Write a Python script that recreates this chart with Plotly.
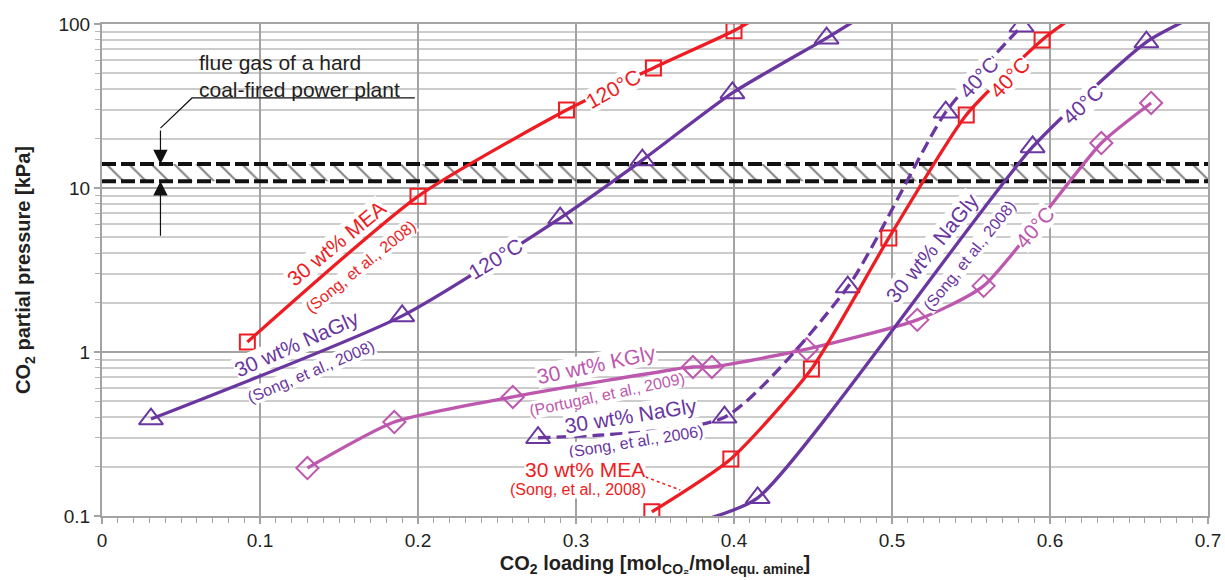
import math
import plotly.graph_objects as go

# ---------------- data ----------------
# 30 wt% MEA, 120 °C (Song et al., 2008)
mea120_x = [0.092, 0.200, 0.294, 0.349, 0.400]
mea120_y = [1.15, 8.9, 29.9, 54.0, 91.0]
mea120_edge_x = [0.412]
mea120_edge_y = [106.0]

# 30 wt% NaGly, 120 °C (Song et al., 2008)
nagly120_x = [0.031, 0.190, 0.290, 0.342, 0.399, 0.4586]
nagly120_y = [0.39, 1.66, 6.56, 14.8, 38.0, 82.0]
nagly120_edge_x = [0.476]
nagly120_edge_y = [104.0]

# 30 wt% MEA, 40 °C (Song et al., 2008)
mea40_x = [0.348, 0.398, 0.449, 0.498, 0.547, 0.595]
mea40_y = [0.106, 0.223, 0.787, 4.96, 27.9, 80.0]
mea40_edge_x = [0.612]
mea40_edge_y = [106.0]

# 30 wt% NaGly, 40 °C (Song et al., 2006) - dashed
nagly06_x = [0.276, 0.394, 0.472, 0.534, 0.582]
nagly06_y = [0.30, 0.40, 2.49, 29.0, 97.0]

# 30 wt% NaGly, 40 °C (Song et al., 2008)
nagly40_x = [0.415, 0.589, 0.661]
nagly40_y = [0.129, 17.8, 77.6]
nagly40_start_x = [0.375]
nagly40_start_y = [0.091]
nagly40_edge_x = [0.685]
nagly40_edge_y = [104.0]

# 30 wt% KGly, 40 °C (Portugal et al., 2009)
kgly_x = [0.130, 0.185, 0.260, 0.374, 0.386, 0.446, 0.516, 0.558, 0.6325, 0.664]
kgly_y = [0.196, 0.374, 0.532, 0.81, 0.81, 1.04, 1.57, 2.53, 18.8, 33.0]

# flue gas band of a hard coal-fired power plant (kPa)
flue_low = 11.0
flue_high = 14.0
x_range = [0.0, 0.7]
y_range = [0.1, 100]

RED = "#ee1d23"
PURPLE = "#6a36a0"
PINK = "#bd58ae"
TXT = "#231f20"
FONT = "Liberation Sans, Arial, sans-serif"

fig = go.Figure()

# ---------------- flue gas band ----------------
fig.add_trace(go.Scatter(
    x=x_range, y=[flue_low, flue_low], mode="lines",
    line=dict(color="#111111", width=4, dash="14px,5px"),
    hoverinfo="skip"))
fig.add_trace(go.Scatter(
    x=x_range, y=[flue_high, flue_high], mode="lines",
    line=dict(color="#111111", width=4, dash="14px,5px"),
    fill="tonexty", fillcolor="rgba(0,0,0,0)",
    fillpattern=dict(shape="\\", size=16, solidity=0.12,
                     fgcolor="#000000", bgcolor="rgba(0,0,0,0)"),
    hoverinfo="skip"))

# leader for the flue gas note
lead_x = 0.037
fig.add_trace(go.Scatter(
    x=[lead_x, 0.057, 0.198], y=[23.2, 35.4, 35.4], mode="lines",
    line=dict(color="#111111", width=1.2), hoverinfo="skip"))


def curve(xs, ys, color, symbol, size, dash="solid", line_x=None, line_y=None):
    lx = line_x if line_x is not None else xs
    ly = line_y if line_y is not None else ys
    fig.add_trace(go.Scatter(
        x=lx, y=ly, mode="lines",
        line=dict(color=color, width=3.3, dash=dash, shape="spline", smoothing=0.6),
        hoverinfo="skip"))
    fig.add_trace(go.Scatter(
        x=xs, y=ys, mode="markers",
        marker=dict(symbol=symbol, size=size, color=color,
                    line=dict(color=color, width=2)),
        hoverinfo="skip"))


curve(kgly_x, kgly_y, PINK, "diamond-open", 17)
curve(nagly120_x, nagly120_y, PURPLE, "triangle-up-open", 21,
      line_x=nagly120_x + nagly120_edge_x, line_y=nagly120_y + nagly120_edge_y)
curve(nagly40_x, nagly40_y, PURPLE, "triangle-up-open", 21,
      line_x=nagly40_start_x + nagly40_x + nagly40_edge_x,
      line_y=nagly40_start_y + nagly40_y + nagly40_edge_y)
curve(nagly06_x, nagly06_y, PURPLE, "triangle-up-open", 21, dash="12px,6px")
curve(mea120_x, mea120_y, RED, "square-open", 15,
      line_x=mea120_x + mea120_edge_x, line_y=mea120_y + mea120_edge_y)
curve(mea40_x, mea40_y, RED, "square-open", 15,
      line_x=mea40_x + mea40_edge_x, line_y=mea40_y + mea40_edge_y)

# dotted leader for the lower MEA label
fig.add_trace(go.Scatter(
    x=[0.344, 0.366], y=[0.173, 0.144], mode="lines",
    line=dict(color=RED, width=1.5, dash="dot"), hoverinfo="skip"))

# ---------------- labels ----------------
BIG = 21
SMALL = 16
labels = [
    ("30 wt% MEA", 0.1480, 4.62, -39.5, RED, BIG),
    ("(Song, et al., 2008)", 0.1640, 3.30, -39, RED, SMALL),
    ("30 wt% NaGly", 0.1235, 1.12, -24, PURPLE, BIG),
    ("(Song, et al., 2008)", 0.1325, 0.760, -23, PURPLE, SMALL),
    ("120°C", 0.3238, 40.2, -29, RED, BIG),
    ("120°C", 0.2492, 3.74, -31, PURPLE, BIG),
    ("30 wt% KGly", 0.3128, 0.838, -12, PINK, BIG),
    ("(Portugal, et al., 2009)", 0.3195, 0.548, -12, PINK, SMALL),
    ("30 wt% NaGly", 0.3350, 0.412, -9, PURPLE, BIG),
    ("(Song, et al., 2006)", 0.3380, 0.284, -9, PURPLE, SMALL),
    ("30 wt% MEA", 0.3055, 0.1908, 0, RED, BIG),
    ("(Song, et al., 2008)", 0.301, 0.146, 0, RED, SMALL),
    ("30 wt% NaGly", 0.5255, 4.35, -51, PURPLE, BIG),
    ("(Song, et al., 2008)", 0.5490, 3.90, -51, PURPLE, SMALL),
    ("40°C", 0.5547, 47.5, -48, PURPLE, BIG),
    ("40°C", 0.5743, 47.5, -46, RED, BIG),
    ("40°C", 0.6205, 32.5, -43, PURPLE, BIG),
    ("40°C", 0.5901, 5.78, -49, PINK, BIG),
]
for text, x, y, ang, col, fs in labels:
    fig.add_annotation(
        x=x, y=math.log10(y), text=text, showarrow=False, textangle=ang,
        xanchor="center", yanchor="middle", bgcolor="white", borderpad=0,
        font=dict(family=FONT, size=fs, color=col))

# flue gas note
fig.add_annotation(
    x=0.060, y=math.log10(48.5), text="flue gas of a hard<br>coal-fired power plant",
    showarrow=False, xanchor="left", yanchor="middle", align="left",
    font=dict(family=FONT, size=21, color=TXT))
# arrows pointing to the band
fig.add_annotation(x=lead_x, y=math.log10(flue_high), text="", showarrow=True,
                   ax=0, ay=-35, arrowhead=2, arrowsize=2.4, arrowwidth=1.2,
                   arrowcolor="#111111", standoff=0)
fig.add_annotation(x=lead_x, y=math.log10(flue_low), text="", showarrow=True,
                   ax=0, ay=56, arrowhead=2, arrowsize=2.4, arrowwidth=1.2,
                   arrowcolor="#111111", standoff=0)

# ---------------- layout ----------------
fig.update_layout(
    width=1225, height=580,
    margin=dict(l=102, r=17, t=24, b=64),
    paper_bgcolor="white", plot_bgcolor="white",
    showlegend=False,
    font=dict(family=FONT, size=19, color=TXT),
    xaxis=dict(
        range=x_range, dtick=0.1, tick0=0, automargin=False,
        showgrid=True, gridcolor="#a3a3a3", gridwidth=1.5,
        showline=True, linecolor="#a3a3a3", linewidth=2, mirror=True,
        ticks="outside", ticklen=6, tickcolor="#a3a3a3", tickwidth=1.5,
        minor=dict(dtick=0.01, ticks="outside", ticklen=5, tickcolor="#a3a3a3",
                   tickwidth=1.2, showgrid=False),
        zeroline=False,
        tickfont=dict(size=19, color=TXT),
        title=dict(text="<b>CO<sub>2</sub> loading [mol<sub>CO₂</sub>/mol<sub>equ. amine</sub>]</b>",
                   font=dict(size=20, color=TXT), standoff=6),
    ),
    yaxis=dict(
        type="log", range=[math.log10(y_range[0]), math.log10(y_range[1])], dtick=1,
        automargin=False,
        showgrid=True, gridcolor="#a3a3a3", gridwidth=2,
        showline=True, linecolor="#a3a3a3", linewidth=2, mirror=True,
        ticks="outside", ticklen=6, tickcolor="#a3a3a3", tickwidth=1.5,
        minor=dict(dtick="D1", ticks="outside", ticklen=5, tickcolor="#b5b5b5",
                   tickwidth=1.2, showgrid=True, gridcolor="#cccccc", gridwidth=1.5),
        zeroline=False,
        tickfont=dict(size=19, color=TXT),
        title=dict(text="<b>CO<sub>2</sub> partial pressure [kPa]</b>",
                   font=dict(size=20, color=TXT), standoff=22),
    ),
)

fig.write_html("out.html")
